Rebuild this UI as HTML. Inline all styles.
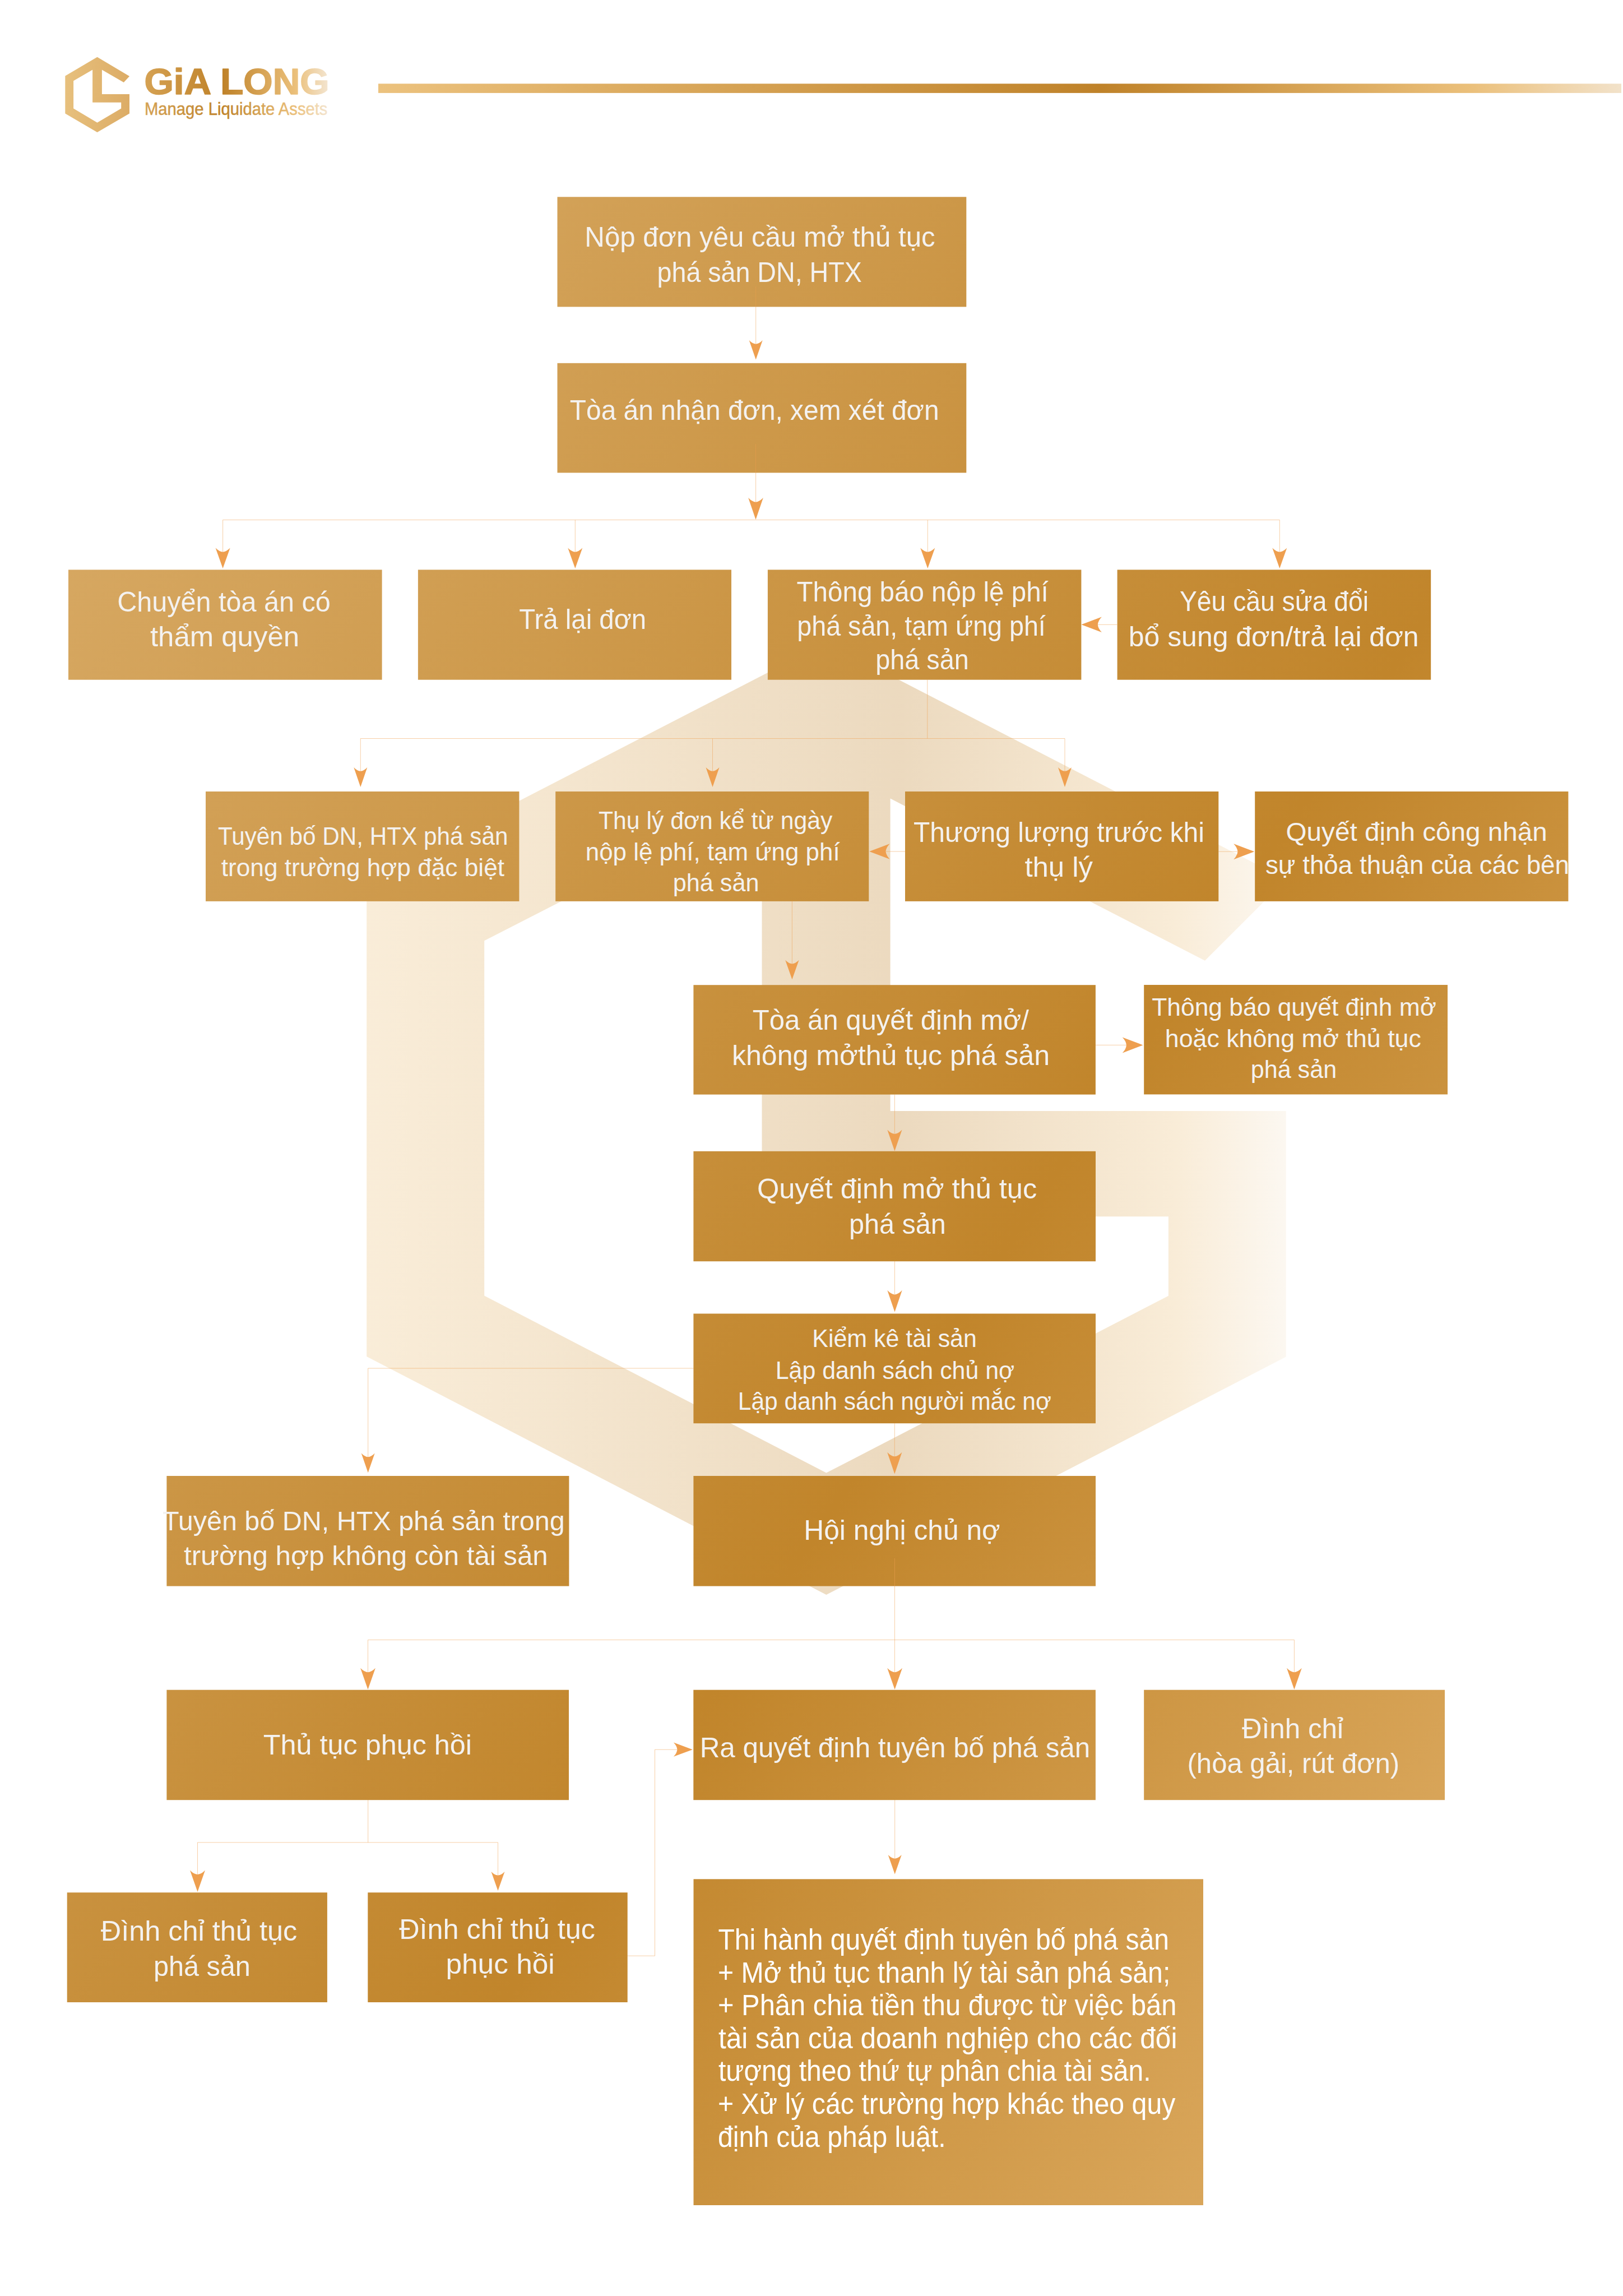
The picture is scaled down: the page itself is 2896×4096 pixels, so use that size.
<!DOCTYPE html>
<html lang="vi"><head><meta charset="utf-8"><title>Gia Long - Thủ tục phá sản</title>
<style>html,body{margin:0;padding:0;background:#fff}body{width:2896px;height:4096px;overflow:hidden}svg{display:block}text{font-family:'Liberation Sans', Arial, sans-serif}</style></head><body>
<svg width="2896" height="4096" viewBox="0 0 2896 4096">
<defs>
<linearGradient id="gb" gradientUnits="userSpaceOnUse" x1="0" y1="0" x2="3902" y2="2603"><stop offset="0" stop-color="#DDB272"/><stop offset="0.582" stop-color="#C1852B"/><stop offset="1" stop-color="#E7B976"/></linearGradient>
<linearGradient id="gl" gradientUnits="userSpaceOnUse" x1="675" y1="0" x2="2893" y2="0"><stop offset="0" stop-color="#ECC27E"/><stop offset="0.58" stop-color="#BF8229"/><stop offset="0.88" stop-color="#EBC07B"/><stop offset="1" stop-color="#F2E2CA"/></linearGradient>
<linearGradient id="gw" gradientUnits="userSpaceOnUse" x1="654" y1="0" x2="2295" y2="0"><stop offset="0" stop-color="#ECC27E"/><stop offset="0.58" stop-color="#BF8229"/><stop offset="0.88" stop-color="#EBC07B"/><stop offset="1" stop-color="#F5E6D0"/></linearGradient>
<linearGradient id="gg" gradientUnits="userSpaceOnUse" x1="116" y1="0" x2="584" y2="0"><stop offset="0" stop-color="#ECC27E"/><stop offset="0.60" stop-color="#BF8229"/><stop offset="0.88" stop-color="#EBC07B"/><stop offset="1" stop-color="#F3E4CE"/></linearGradient>
<linearGradient id="gm" gradientUnits="userSpaceOnUse" x1="116" y1="0" x2="231" y2="0"><stop offset="0" stop-color="#E7C07D"/><stop offset="1" stop-color="#DCAC66"/></linearGradient>
</defs>
<rect x="675" y="149.3" width="2218" height="16.6" fill="url(#gl)"/>
<path d="M173.5 101.8 L231.0 135.9 L220.8 147.0 L181.9 124.5 L181.9 167.9 L231.0 167.9 L231.0 202.4 L173.5 236.0 L116.3 202.4 L116.3 135.6 Z M165.1 124.5 L131.1 144.2 L131.1 193.6 L173.5 218.7 L216.2 193.6 L216.2 182.7 L165.1 182.7 Z" fill="url(#gm)" fill-rule="evenodd"/>
<text x="257.47" y="168.0" font-size="65.5" font-weight="bold" fill="url(#gg)" stroke="url(#gg)" stroke-width="1.6" stroke-linejoin="round" textLength="330.09" lengthAdjust="spacingAndGlyphs">GiA LONG</text>
<text x="257.99" y="204.5" font-size="30.5" fill="url(#gg)" stroke="url(#gg)" stroke-width="0.5" textLength="326.51" lengthAdjust="spacingAndGlyphs">Manage Liquidate Assets</text>
<path d="M1474.4 1146.0 L2295.0 1569.0 L2150.0 1713.8 L1588.6 1424.6 L1588.6 1982.0 L2294.7 1982.0 L2294.7 2420.5 L1474.4 2845.1 L654.2 2419.9 L654.2 1569.0 Z M1359.5 1424.8 L864.2 1678.3 L864.2 2311.5 L1474.4 2627.6 L2084.9 2311.7 L2084.9 2170.3 L1359.5 2170.3 Z" fill="url(#gw)" fill-rule="evenodd" opacity="0.3"/>
<rect x="994.5" y="351.3" width="729.8" height="196.1" fill="url(#gb)"/>
<rect x="994.5" y="647.8" width="729.8" height="195.6" fill="url(#gb)"/>
<rect x="122.0" y="1016.4" width="559.6" height="196.3" fill="url(#gb)"/>
<rect x="745.9" y="1016.4" width="559.1" height="196.3" fill="url(#gb)"/>
<rect x="1369.9" y="1016.4" width="559.5" height="196.3" fill="url(#gb)"/>
<rect x="1993.6" y="1016.4" width="559.6" height="196.3" fill="url(#gb)"/>
<rect x="367.0" y="1412.0" width="559.4" height="195.9" fill="url(#gb)"/>
<rect x="991.2" y="1412.0" width="559.1" height="195.9" fill="url(#gb)"/>
<rect x="1615.0" y="1412.0" width="559.3" height="195.9" fill="url(#gb)"/>
<rect x="2239.2" y="1412.0" width="559.2" height="195.9" fill="url(#gb)"/>
<rect x="1237.4" y="1757.2" width="717.5" height="195.4" fill="url(#gb)"/>
<rect x="2041.2" y="1757.0" width="541.8" height="195.4" fill="url(#gb)"/>
<rect x="1237.4" y="2053.8" width="717.6" height="196.4" fill="url(#gb)"/>
<rect x="1237.4" y="2343.5" width="717.6" height="195.7" fill="url(#gb)"/>
<rect x="1237.4" y="2633.0" width="717.6" height="196.6" fill="url(#gb)"/>
<rect x="297.4" y="2633.0" width="718.0" height="196.6" fill="url(#gb)"/>
<rect x="297.4" y="3014.7" width="717.6" height="196.5" fill="url(#gb)"/>
<rect x="1237.3" y="3014.7" width="717.6" height="196.5" fill="url(#gb)"/>
<rect x="2041.2" y="3014.7" width="536.8" height="196.5" fill="url(#gb)"/>
<rect x="119.7" y="3376.2" width="464.2" height="195.8" fill="url(#gb)"/>
<rect x="656.3" y="3376.2" width="463.4" height="195.8" fill="url(#gb)"/>
<rect x="1237.5" y="3352.3" width="909.5" height="581.7" fill="url(#gb)"/>
<g fill="none" stroke="#F0A050" stroke-width="1" stroke-opacity="0.5">
<polyline points="1348.7,511.0 1348.7,615.0"/>
<polyline points="1348.6,792.0 1348.6,896.0"/>
<polyline points="397.6,985.0 397.6,927.5 2283.3,927.5 2283.3,985.0"/>
<polyline points="1026.3,927.5 1026.3,985.0"/>
<polyline points="1655.3,927.5 1655.3,985.0"/>
<polyline points="1993.5,1114.3 1959.0,1114.3"/>
<polyline points="1654.8,1212.6 1654.8,1317.5"/>
<polyline points="643.3,1376.0 643.3,1317.5 1900.0,1317.5 1900.0,1376.0"/>
<polyline points="1271.5,1317.5 1271.5,1376.0"/>
<polyline points="1615.2,1519.0 1581.0,1519.0"/>
<polyline points="2174.3,1519.2 2208.0,1519.2"/>
<polyline points="1413.4,1607.0 1413.4,1720.0"/>
<polyline points="1955.0,1864.4 2010.0,1864.4"/>
<polyline points="1596.4,1952.4 1596.4,2022.0"/>
<polyline points="1596.5,2250.0 1596.5,2309.0"/>
<polyline points="1596.3,2539.2 1596.3,2598.0"/>
<polyline points="1237.4,2441.0 656.7,2441.0 656.7,2600.0"/>
<polyline points="1596.5,2780.0 1596.5,2983.0"/>
<polyline points="656.5,2983.0 656.5,2925.5 2309.4,2925.5 2309.4,2983.0"/>
<polyline points="656.7,3211.0 656.7,3286.9"/>
<polyline points="352.5,3344.0 352.5,3286.9 888.5,3286.9 888.5,3345.0"/>
<polyline points="1119.7,3489.2 1168.5,3489.2 1168.5,3121.2 1208.0,3121.2"/>
<polyline points="1596.7,3211.0 1596.7,3316.0"/>
</g>
<g fill="#EE9F4F">
<path d="M1336.7 607.1 Q1342.7 613.3 1348.7 613.8 Q1354.7 613.3 1360.7 607.1 L1348.7 641.6Z"/>
<path d="M1335.2 888.1 Q1341.8 895.2 1348.5 895.7 Q1355.2 895.2 1361.8 888.1 L1348.5 926.9Z"/>
<path d="M384.6 977.6 Q391.1 984.2 397.6 984.7 Q404.1 984.2 410.6 977.6 L397.6 1013.9Z"/>
<path d="M1013.3 977.6 Q1019.8 984.2 1026.3 984.7 Q1032.8 984.2 1039.3 977.6 L1026.3 1013.9Z"/>
<path d="M1642.3 977.6 Q1648.8 984.2 1655.3 984.7 Q1661.8 984.2 1668.3 977.6 L1655.3 1013.9Z"/>
<path d="M2270.3 977.6 Q2276.8 984.2 2283.3 984.7 Q2289.8 984.2 2296.3 977.6 L2283.3 1013.9Z"/>
<path d="M1965.9 1100.6 Q1959.3 1107.5 1958.8 1114.3 Q1959.3 1121.1 1965.9 1128.0 L1929.4 1114.3Z"/>
<path d="M631.3 1368.9 Q637.3 1375.2 643.3 1375.7 Q649.3 1375.2 655.3 1368.9 L643.3 1403.9Z"/>
<path d="M1259.5 1368.9 Q1265.5 1375.2 1271.5 1375.7 Q1277.5 1375.2 1283.5 1368.9 L1271.5 1403.9Z"/>
<path d="M1888.0 1368.9 Q1894.0 1375.2 1900.0 1375.7 Q1906.0 1375.2 1912.0 1368.9 L1900.0 1403.9Z"/>
<path d="M1587.6 1505.3 Q1581.0 1512.2 1580.5 1519.0 Q1581.0 1525.8 1587.6 1532.7 L1551.1 1519.0Z"/>
<path d="M2201.2 1505.2 Q2207.9 1512.2 2208.4 1519.2 Q2207.9 1526.2 2201.2 1533.2 L2238.2 1519.2Z"/>
<path d="M1401.2 1712.8 Q1407.3 1719.0 1413.4 1719.5 Q1419.5 1719.0 1425.6 1712.8 L1413.4 1747.3Z"/>
<path d="M2002.7 1850.4 Q2009.4 1857.4 2009.9 1864.4 Q2009.4 1871.4 2002.7 1878.4 L2039.4 1864.4Z"/>
<path d="M1583.3 2015.4 Q1589.9 2022.3 1596.4 2022.8 Q1603.0 2022.3 1609.5 2015.4 L1596.4 2053.5Z"/>
<path d="M1583.3 2301.8 Q1589.9 2308.9 1596.5 2309.4 Q1603.1 2308.9 1609.7 2301.8 L1596.5 2340.6Z"/>
<path d="M1583.2 2590.7 Q1589.8 2597.8 1596.3 2598.3 Q1602.8 2597.8 1609.4 2590.7 L1596.3 2629.5Z"/>
<path d="M644.7 2592.5 Q650.7 2598.8 656.7 2599.3 Q662.7 2598.8 668.7 2592.5 L656.7 2627.3Z"/>
<path d="M1583.2 2975.8 Q1589.9 2982.7 1596.6 2983.2 Q1603.3 2982.7 1610.0 2975.8 L1596.6 3014.0Z"/>
<path d="M643.1 2975.8 Q649.8 2982.7 656.5 2983.2 Q663.2 2982.7 669.9 2975.8 L656.5 3014.0Z"/>
<path d="M2296.0 2975.8 Q2302.7 2982.7 2309.4 2983.2 Q2316.1 2982.7 2322.8 2975.8 L2309.4 3014.0Z"/>
<path d="M339.0 3336.6 Q345.8 3343.6 352.5 3344.1 Q359.2 3343.6 366.0 3336.6 L352.5 3375.0Z"/>
<path d="M876.5 3338.9 Q882.5 3345.1 888.5 3345.6 Q894.5 3345.1 900.5 3338.9 L888.5 3373.1Z"/>
<path d="M1201.8 3108.6 Q1207.9 3114.9 1208.4 3121.2 Q1207.9 3127.5 1201.8 3133.8 L1235.8 3121.2Z"/>
<path d="M1584.7 3309.1 Q1590.7 3315.3 1596.7 3315.8 Q1602.7 3315.3 1608.7 3309.1 L1596.7 3343.6Z"/>
</g>
<g fill="#F4F2F0">
<text x="1043.36" y="440.4" font-size="50" textLength="625.26" lengthAdjust="spacingAndGlyphs">Nộp đơn yêu cầu mở thủ tục</text>
<text x="1172.57" y="503.3" font-size="50" textLength="365.25" lengthAdjust="spacingAndGlyphs">phá sản DN, HTX</text>
<text x="1016.79" y="749.2" font-size="50" textLength="658.83" lengthAdjust="spacingAndGlyphs">Tòa án nhận đơn, xem xét đơn</text>
<text x="209.17" y="1090.9" font-size="50" textLength="380.65" lengthAdjust="spacingAndGlyphs">Chuyển tòa án có</text>
<text x="267.98" y="1153.4" font-size="50" textLength="266.06" lengthAdjust="spacingAndGlyphs">thẩm quyền</text>
<text x="926.37" y="1121.5" font-size="50" textLength="226.69" lengthAdjust="spacingAndGlyphs">Trả lại đơn</text>
<text x="1421.59" y="1073.3" font-size="50" textLength="449.21" lengthAdjust="spacingAndGlyphs">Thông báo nộp lệ phí</text>
<text x="1422.37" y="1133.7" font-size="50" textLength="443.44" lengthAdjust="spacingAndGlyphs">phá sản, tạm ứng phí</text>
<text x="1562.24" y="1194.1" font-size="50" textLength="166.53" lengthAdjust="spacingAndGlyphs">phá sản</text>
<text x="2104.97" y="1090.4" font-size="50" textLength="337.10" lengthAdjust="spacingAndGlyphs">Yêu cầu sửa đổi</text>
<text x="2013.75" y="1153.2" font-size="50" textLength="517.90" lengthAdjust="spacingAndGlyphs">bổ sung đơn/trả lại đơn</text>
<text x="388.99" y="1507.2" font-size="45" textLength="517.44" lengthAdjust="spacingAndGlyphs">Tuyên bố DN, HTX phá sản</text>
<text x="394.80" y="1562.6" font-size="45" textLength="505.21" lengthAdjust="spacingAndGlyphs">trong trường hợp đặc biệt</text>
<text x="1068.00" y="1478.8" font-size="44" textLength="417.41" lengthAdjust="spacingAndGlyphs">Thụ lý đơn kể từ ngày</text>
<text x="1044.77" y="1534.5" font-size="44" textLength="453.84" lengthAdjust="spacingAndGlyphs">nộp lệ phí, tạm ứng phí</text>
<text x="1200.66" y="1590.4" font-size="44" textLength="153.90" lengthAdjust="spacingAndGlyphs">phá sản</text>
<text x="1629.99" y="1502.4" font-size="50" textLength="518.84" lengthAdjust="spacingAndGlyphs">Thương lượng trước khi</text>
<text x="1828.38" y="1564.2" font-size="50" textLength="121.65" lengthAdjust="spacingAndGlyphs">thụ lý</text>
<text x="2294.56" y="1500.2" font-size="47" textLength="466.27" lengthAdjust="spacingAndGlyphs">Quyết định công nhận</text>
<text x="2257.98" y="1559.3" font-size="47" textLength="542.05" lengthAdjust="spacingAndGlyphs">sự thỏa thuận của các bên</text>
<text x="1342.79" y="1836.6" font-size="50" textLength="493.01" lengthAdjust="spacingAndGlyphs">Tòa án quyết định mở/</text>
<text x="1305.96" y="1899.6" font-size="50" textLength="567.08" lengthAdjust="spacingAndGlyphs">không mởthủ tục phá sản</text>
<text x="2055.19" y="1811.5" font-size="44.5" textLength="507.63" lengthAdjust="spacingAndGlyphs">Thông báo quyết định mở</text>
<text x="2078.76" y="1867.6" font-size="44.5" textLength="457.06" lengthAdjust="spacingAndGlyphs">hoặc không mở thủ tục</text>
<text x="2231.66" y="1922.9" font-size="44.5" textLength="153.48" lengthAdjust="spacingAndGlyphs">phá sản</text>
<text x="1350.98" y="2138.0" font-size="50" textLength="499.24" lengthAdjust="spacingAndGlyphs">Quyết định mở thủ tục</text>
<text x="1515.09" y="2200.5" font-size="50" textLength="172.65" lengthAdjust="spacingAndGlyphs">phá sản</text>
<text x="1449.29" y="2402.5" font-size="44" textLength="293.60" lengthAdjust="spacingAndGlyphs">Kiểm kê tài sản</text>
<text x="1383.75" y="2459.5" font-size="44" textLength="426.47" lengthAdjust="spacingAndGlyphs">Lập danh sách chủ nợ</text>
<text x="1316.76" y="2515.1" font-size="44" textLength="559.05" lengthAdjust="spacingAndGlyphs">Lập danh sách người mắc nợ</text>
<text x="1434.33" y="2747.1" font-size="50" textLength="350.30" lengthAdjust="spacingAndGlyphs">Hội nghị chủ nợ</text>
<text x="289.94" y="2730.0" font-size="49" textLength="717.72" lengthAdjust="spacingAndGlyphs">Tuyên bố DN, HTX phá sản trong</text>
<text x="327.99" y="2791.9" font-size="49" textLength="649.63" lengthAdjust="spacingAndGlyphs">trường hợp không còn tài sản</text>
<text x="469.78" y="3129.6" font-size="50" textLength="372.27" lengthAdjust="spacingAndGlyphs">Thủ tục phục hồi</text>
<text x="1248.75" y="3134.9" font-size="50" textLength="696.49" lengthAdjust="spacingAndGlyphs">Ra quyết định tuyên bố phá sản</text>
<text x="2215.99" y="3101.0" font-size="50" textLength="181.01" lengthAdjust="spacingAndGlyphs">Đình chỉ</text>
<text x="2118.54" y="3163.1" font-size="50" textLength="378.52" lengthAdjust="spacingAndGlyphs">(hòa gải, rút đơn)</text>
<text x="179.80" y="3462.4" font-size="50" textLength="350.42" lengthAdjust="spacingAndGlyphs">Đình chỉ thủ tục</text>
<text x="273.89" y="3525.0" font-size="50" textLength="173.02" lengthAdjust="spacingAndGlyphs">phá sản</text>
<text x="712.19" y="3458.7" font-size="50" textLength="349.82" lengthAdjust="spacingAndGlyphs">Đình chỉ thủ tục</text>
<text x="795.47" y="3521.0" font-size="50" textLength="194.25" lengthAdjust="spacingAndGlyphs">phục hồi</text>
<text x="1281.39" y="3478.3" font-size="51" fill="#FFFFFF" textLength="804.52" lengthAdjust="spacingAndGlyphs">Thi hành quyết định tuyên bố phá sản</text>
<text x="1280.98" y="3536.8" font-size="51" fill="#FFFFFF" textLength="807.35" lengthAdjust="spacingAndGlyphs">+ Mở thủ tục thanh lý tài sản phá sản;</text>
<text x="1280.99" y="3595.3" font-size="51" fill="#FFFFFF" textLength="818.42" lengthAdjust="spacingAndGlyphs">+ Phân chia tiền thu được từ việc bán</text>
<text x="1282.00" y="3653.9" font-size="51" fill="#FFFFFF" textLength="818.42" lengthAdjust="spacingAndGlyphs">tài sản của doanh nghiệp cho các đối</text>
<text x="1282.00" y="3712.4" font-size="51" fill="#FFFFFF" textLength="771.52" lengthAdjust="spacingAndGlyphs">tượng theo thứ tự phân chia tài sản.</text>
<text x="1281.00" y="3771.0" font-size="51" fill="#FFFFFF" textLength="816.40" lengthAdjust="spacingAndGlyphs">+ Xử lý các trường hợp khác theo quy</text>
<text x="1280.98" y="3829.5" font-size="51" fill="#FFFFFF" textLength="406.56" lengthAdjust="spacingAndGlyphs">định của pháp luật.</text>
</g>
</svg></body></html>
